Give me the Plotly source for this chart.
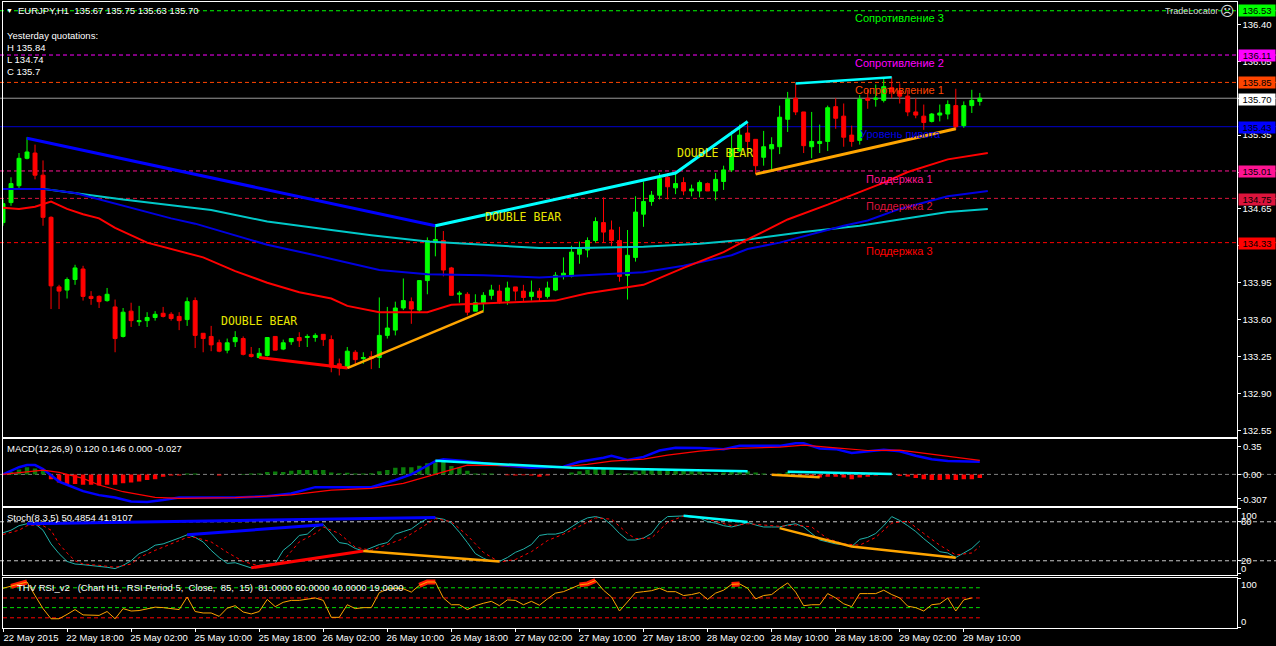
import plotly.graph_objects as go

W, H = 1276, 646
WHITE = "#ffffff"
TXT_FONT = "Liberation Sans"

# --- candles, EURJPY H1, one row of ten per line
opens = [134.52, 134.71, 134.87, 135.13, 135.18, 134.97, 134.57, 133.91, 133.88, 133.98,
         134.08, 133.82, 133.82, 133.78, 133.72, 133.44, 133.68, 133.58, 133.59, 133.62,
         133.66, 133.65, 133.63, 133.60, 133.78, 133.47, 133.44, 133.38, 133.31, 133.39,
         133.42, 133.27, 133.24, 133.26, 133.44, 133.32, 133.39, 133.43, 133.43, 133.43,
         133.46, 133.41, 133.18, 133.15, 133.29, 133.23, 133.25, 133.24, 133.45, 133.50,
         133.71, 133.77, 133.69, 133.97, 134.33, 134.35, 134.09, 133.84, 133.84, 133.68,
         133.76, 133.83, 133.87, 133.78, 133.91, 133.87, 133.82, 133.87, 133.82, 133.88,
         134.02, 134.01, 134.22, 134.26, 134.35, 134.52, 134.45, 134.35, 134.02, 134.19,
         134.60, 134.72, 134.78, 134.95, 134.85, 134.90, 134.82, 134.82, 134.89, 134.82,
         134.91, 135.02, 135.20, 135.37, 135.31, 135.14, 135.22, 135.24, 135.50, 135.70,
         135.57, 135.24, 135.27, 135.29, 135.62, 135.53, 135.35, 135.30, 135.70, 135.69,
         135.68, 135.80, 135.77, 135.72, 135.57, 135.53, 135.48, 135.54, 135.55, 135.63,
         135.44, 135.63, 135.67]
highs = [134.74, 134.95, 135.18, 135.33, 135.26, 135.11, 134.58, 133.93, 134.00, 134.12,
         134.11, 133.87, 133.83, 133.90, 133.79, 133.71, 133.76, 133.73, 133.67, 133.68,
         133.72, 133.67, 133.67, 133.81, 133.81, 133.47, 133.54, 133.41, 133.42, 133.49,
         133.44, 133.34, 133.33, 133.43, 133.44, 133.41, 133.42, 133.48, 133.46, 133.47,
         133.46, 133.45, 133.23, 133.34, 133.31, 133.29, 133.30, 133.81, 133.72, 133.77,
         133.99, 133.81, 133.97, 134.38, 134.49, 134.44, 134.10, 133.87, 133.86, 133.84,
         133.86, 133.93, 133.93, 133.96, 133.91, 133.93, 133.97, 133.90, 133.96, 134.05,
         134.19, 134.30, 134.34, 134.38, 134.57, 134.76, 134.54, 134.48, 134.45, 134.77,
         134.91, 134.82, 134.99, 134.99, 135.00, 134.95, 134.88, 134.92, 134.90, 134.99,
         135.06, 135.39, 135.45, 135.46, 135.31, 135.39, 135.33, 135.63, 135.76, 135.84,
         135.57, 135.57, 135.45, 135.63, 135.70, 135.65, 135.44, 135.73, 135.78, 135.83,
         135.90, 135.90, 135.84, 135.78, 135.70, 135.64, 135.56, 135.64, 135.68, 135.79,
         135.67, 135.78, 135.75]
lows = [134.49, 134.68, 134.84, 135.12, 134.93, 134.49, 133.70, 133.70, 133.80, 133.93,
        133.78, 133.74, 133.71, 133.77, 133.29, 133.43, 133.53, 133.54, 133.53, 133.59,
        133.62, 133.59, 133.50, 133.54, 133.33, 133.29, 133.30, 133.29, 133.28, 133.34,
        133.26, 133.24, 133.23, 133.25, 133.31, 133.31, 133.36, 133.34, 133.34, 133.39,
        133.35, 133.10, 133.07, 133.14, 133.16, 133.18, 133.13, 133.14, 133.42, 133.45,
        133.69, 133.56, 133.67, 133.84, 134.20, 134.01, 133.83, 133.76, 133.64, 133.68,
        133.68, 133.79, 133.75, 133.74, 133.78, 133.77, 133.78, 133.77, 133.80, 133.87,
        133.98, 134.00, 134.13, 134.19, 134.33, 134.33, 134.30, 133.96, 133.79, 134.15,
        134.48, 134.68, 134.74, 134.74, 134.79, 134.78, 134.77, 134.76, 134.82, 134.73,
        134.83, 135.00, 135.19, 135.21, 134.98, 135.06, 135.02, 135.17, 135.38, 135.54,
        135.18, 135.13, 135.18, 135.20, 135.41, 135.24, 135.24, 135.26, 135.60, 135.62,
        135.66, 135.70, 135.65, 135.53, 135.51, 135.40, 135.47, 135.48, 135.50, 135.40,
        135.42, 135.56, 135.63]
closes = [134.70, 134.89, 135.13, 135.19, 134.97, 134.57, 133.92, 133.87, 133.98, 134.09,
          133.82, 133.80, 133.77, 133.84, 133.42, 133.67, 133.59, 133.59, 133.62, 133.65,
          133.63, 133.61, 133.59, 133.77, 133.45, 133.42, 133.36, 133.30, 133.38, 133.43,
          133.27, 133.25, 133.28, 133.43, 133.31, 133.38, 133.42, 133.40, 133.44, 133.45,
          133.41, 133.15, 133.14, 133.30, 133.22, 133.24, 133.23, 133.45, 133.52, 133.71,
          133.78, 133.70, 133.97, 134.35, 134.36, 134.07, 133.83, 133.85, 133.67, 133.76,
          133.83, 133.88, 133.77, 133.90, 133.87, 133.81, 133.86, 133.81, 133.90, 134.02,
          134.04, 134.24, 134.27, 134.35, 134.53, 134.43, 134.35, 134.01, 134.21, 134.62,
          134.72, 134.78, 134.94, 134.86, 134.89, 134.82, 134.84, 134.90, 134.82, 134.93,
          135.02, 135.22, 135.35, 135.29, 135.06, 135.24, 135.26, 135.52, 135.69, 135.57,
          135.25, 135.29, 135.29, 135.61, 135.51, 135.33, 135.29, 135.69, 135.68, 135.70,
          135.81, 135.76, 135.72, 135.57, 135.54, 135.47, 135.55, 135.56, 135.64, 135.43,
          135.63, 135.68, 135.70]

# --- moving averages, read every few bars
ma_red_bars = [0, 2, 4, 6, 8, 10, 12, 14, 18, 25, 29, 33, 37, 41, 43, 47, 53, 56, 62, 69,
               73, 80, 85, 90, 93, 98, 103, 110, 113, 118, 123]
ma_red = [134.66, 134.65, 134.67, 134.72, 134.65, 134.60, 134.56, 134.47, 134.33, 134.19,
          134.06, 133.95, 133.86, 133.80, 133.73, 133.67, 133.67, 133.74, 133.76, 133.78,
          133.85, 133.93, 134.09, 134.24, 134.36, 134.55, 134.69, 134.90, 135.00, 135.12, 135.18]
ma_blue_bars = [0, 5, 9, 16, 21, 24, 28, 33, 39, 43, 47, 53, 60, 67, 75, 80, 85, 91, 93, 97,
                105, 108, 112, 118, 123]
ma_blue = [134.84, 134.84, 134.80, 134.66, 134.56, 134.51, 134.42, 134.31, 134.21, 134.14,
           134.07, 134.03, 134.02, 134.00, 134.03, 134.05, 134.11, 134.21, 134.27, 134.33,
           134.49, 134.54, 134.65, 134.77, 134.82]
ma_cyan_bars = [0, 5, 7, 15, 26, 33, 41, 46, 53, 60, 67, 72, 80, 87, 93, 100, 107, 112, 118, 123]
ma_cyan = [134.84, 134.84, 134.82, 134.74, 134.64, 134.53, 134.45, 134.40, 134.34, 134.31,
           134.28, 134.28, 134.29, 134.32, 134.36, 134.43, 134.49, 134.55, 134.62, 134.65]

# --- trend lines in the price pane
blue_trend_bars, blue_trend = [3, 54], [135.32, 134.49]
cyan_trend_bars, cyan_trend = [54, 84, 93], [134.49, 134.99, 135.48]
cyan_top_bars, cyan_top = [99, 111], [135.84, 135.90]
red_trend_bars, red_trend = [32, 43], [133.24, 133.14]
orange_a_bars, orange_a = [43, 60], [133.14, 133.68]
orange_b_bars, orange_b = [94, 119], [134.98, 135.41]

# --- levels
level_prices = [136.53, 136.11, 135.85, 135.01, 134.75, 134.33]
level_colors = ["#00ff00", "#ff00ff", "#ff4500", "#ff1493", "#dc143c", "#ff0000"]
level_names = ["Сопротивление 3", "Сопротивление 2", "Сопротивление 1",
               "Поддержка 1", "Поддержка 2", "Поддержка 3"]
pivot_price, last_price = 135.43, 135.70
price_ticks = [136.40, 136.05, 135.70, 135.35, 135.00, 134.65, 134.30, 133.95, 133.60, 133.25, 132.90, 132.55]

# --- MACD
macd_hist = [0.01, 0.03, 0.06, 0.09, 0.075, 0.045, -0.06, -0.10, -0.12, -0.12,
             -0.13, -0.13, -0.14, -0.13, -0.13, -0.11, -0.10, -0.09, -0.07, -0.06,
             -0.03, -0.015, -0.015, 0.01, 0.01, 0.0, 0.0, -0.015, 0.0, 0.0,
             0.005, 0.01, 0.01, 0.03, 0.035, 0.03, 0.045, 0.055, 0.055, 0.055,
             0.055, 0.025, 0.015, 0.02, 0.01, 0.01, 0.015, 0.04, 0.055, 0.085,
             0.09, 0.09, 0.11, 0.14, 0.16, 0.16, 0.105, 0.09, 0.045, 0.01,
             0.01, 0.01, 0.0, -0.01, -0.015, -0.01, -0.015, -0.03, -0.015, 0.0,
             0.0, 0.025, 0.04, 0.055, 0.075, 0.07, 0.055, 0.01, 0.01, 0.035,
             0.055, 0.07, 0.06, 0.055, 0.055, 0.05, 0.04, 0.035, 0.015, 0.01,
             0.025, 0.035, 0.035, 0.04, 0.025, 0.01, 0.0, 0.01, 0.03, -0.005,
             -0.01, -0.03, -0.04, -0.03, -0.03, -0.04, -0.06, -0.04, -0.03, -0.015,
             -0.005, 0.0, -0.02, -0.025, -0.045, -0.06, -0.07, -0.07, -0.06, -0.07,
             -0.06, -0.06, -0.045]
macd_bars = [0, 1, 2, 3, 4, 5, 6, 7, 8, 10, 12, 14, 16, 18, 20, 22, 25, 29, 33, 36, 39, 43, 46,
             49, 51, 52, 54, 55, 58, 62, 66, 70, 72, 75, 76, 78, 80, 82, 84, 87, 90, 92, 97, 99,
             100, 102, 104, 106, 108, 110, 112, 114, 116, 118, 122]
macd_line = [0.0, 0.04, 0.09, 0.117, 0.117, 0.067, -0.01, -0.09, -0.13, -0.21, -0.26, -0.29,
             -0.34, -0.345, -0.32, -0.29, -0.29, -0.29, -0.275, -0.24, -0.16, -0.165, -0.16,
             -0.07, 0.0, 0.055, 0.165, 0.19, 0.165, 0.117, 0.083, 0.096, 0.158, 0.21, 0.233,
             0.18, 0.22, 0.30, 0.333, 0.33, 0.317, 0.358, 0.358, 0.39, 0.39, 0.325, 0.317,
             0.27, 0.29, 0.31, 0.29, 0.233, 0.19, 0.167, 0.158]
signal_bars = [0, 2, 5, 7, 10, 12, 15, 19, 22, 29, 36, 41, 46, 50, 54, 58, 66, 70, 73, 76, 80,
               83, 87, 91, 97, 100, 104, 108, 112, 116, 118, 122]
signal_line = [0.0, 0.025, 0.054, 0.025, -0.05, -0.133, -0.217, -0.288, -0.30, -0.292, -0.258,
               -0.196, -0.175, -0.112, 0.0, 0.117, 0.108, 0.096, 0.125, 0.167, 0.192, 0.242,
               0.292, 0.325, 0.342, 0.367, 0.333, 0.30, 0.304, 0.254, 0.221, 0.175]
macd_cyan_bars, macd_cyan = [54, 71, 93], [0.17, 0.083, 0.04]
macd_cyan2_bars, macd_cyan2 = [98, 111], [0.033, 0.004]
macd_orange_bars, macd_orange = [96, 102], [-0.004, -0.037]

# --- Stochastic
stoch_main = [63, 67, 74, 77, 77, 67, 46, 31, 19, 15, 14, 13, 12, 10, 8, 13, 20, 31, 36, 44,
              46, 50, 55, 60, 56, 49, 36, 25, 16, 17, 13, 9, 13, 15, 16, 36, 46, 59, 61, 72,
              76, 62, 48, 46, 39, 35, 40, 45, 48, 61, 65, 69, 78, 85, 86, 84, 78, 64, 48, 31,
              24, 19, 19, 25, 33, 38, 45, 59, 61, 61, 64, 72, 80, 86, 88, 85, 75, 62, 52, 52,
              55, 62, 78, 88, 89, 89, 87, 86, 80, 78, 74, 72, 75, 79, 75, 72, 72, 72, 75, 77,
              72, 62, 52, 49, 46, 45, 42, 53, 56, 62, 74, 88, 82, 74, 65, 54, 44, 34, 32, 25,
              32, 39, 50.49]
stoch_signal_bars = [0, 2, 3, 4, 5, 6, 7, 8, 9, 10, 12, 14, 16, 17, 19, 21, 23, 24, 26, 28, 30,
                     32, 34, 35, 37, 39, 40, 42, 44, 46, 48, 50, 52, 54, 56, 58, 60, 62, 64, 66,
                     68, 70, 72, 74, 76, 78, 79, 81, 83, 85, 87, 89, 91, 93, 95, 97, 99, 101,
                     103, 105, 107, 109, 111, 113, 115, 117, 119, 121, 122]
stoch_signal = [60.5, 67, 74, 75, 74, 67, 46, 32, 20, 15, 13, 10, 15, 25, 36, 46, 56, 56, 49,
                33, 19, 12, 15, 20, 49, 62, 72, 62, 41, 36, 45, 54, 69, 85, 80, 59, 33, 18,
                22, 34, 51, 61, 73, 86, 84, 62, 54, 55, 79, 89, 87, 80, 74, 77, 75, 73, 75,
                72, 54, 46, 44, 56, 78, 81, 62, 44, 29, 32, 41.91]
stoch_blue_a_bars, stoch_blue_a = [3, 54], [76.9, 86.7]
stoch_blue_b_bars, stoch_blue_b = [23, 40], [60, 75.4]
stoch_red_bars, stoch_red = [31, 45], [9.2, 34.9]
stoch_orange_a_bars, stoch_orange_a = [45, 62], [34.9, 19]
stoch_cyan_bars, stoch_cyan = [85, 93], [89.2, 79.5]
stoch_orange_b_bars, stoch_orange_b = [97, 106, 119], [70.2, 42, 24.6]

# --- THV RSI
rsi_values = [80, 84, 89, 93, 65, 38, 17, 17, 26, 36, 25, 25, 24, 32, 17, 38, 33, 34, 38, 41,
              40, 38, 36, 62, 32, 29, 29, 22, 39, 44, 31, 27, 32, 57, 42, 51, 55, 55, 58, 60,
              55, 20, 20, 46, 38, 40, 40, 71, 78, 80, 79, 72, 86, 93, 93, 60, 46, 46, 36, 44,
              49, 53, 44, 56, 55, 46, 53, 45, 58, 70, 73, 80, 87, 89, 96, 76, 62, 33, 53, 71,
              73, 75, 80, 73, 73, 65, 67, 71, 57, 70, 76, 88, 89, 80, 58, 65, 67, 80, 91, 72,
              44, 46, 46, 69, 60, 48, 42, 69, 69, 69, 76, 67, 60, 43, 40, 33, 46, 48, 60, 33,
              56, 60]
rsi_levels = [81, 60, 40, 19]
rsi_level_colors = ["#00e000", "#ff0000", "#00e000", "#ff0000"]

# --- time axis
time_bars = [0, 8, 16, 24, 32, 40, 48, 56, 64, 72, 80, 88, 96, 104, 112, 120]
time_labels = ["22 May 2015", "22 May 18:00", "25 May 02:00", "25 May 10:00", "25 May 18:00",
               "26 May 02:00", "26 May 10:00", "26 May 18:00", "27 May 02:00", "27 May 10:00",
               "27 May 18:00", "28 May 02:00", "28 May 10:00", "28 May 18:00", "29 May 02:00",
               "29 May 10:00"]


def px(x):
    return x / W


def py(y):
    return 1 - y / H


def line(fig, bars, vals, color, width, yax, dash=None):
    fig.add_trace(go.Scatter(x=bars, y=vals, mode="lines", yaxis=yax, xaxis="x" + yax[1:],
                             line=dict(color=color, width=width, dash=dash), hoverinfo="skip"))


def label(text, x, y, color=WHITE, size=9.5, family=TXT_FONT, anchor="left", **kw):
    fig.add_annotation(text=text, x=px(x - 1.5), y=py(y), xref="paper", yref="paper", showarrow=False,
                       xanchor=anchor, yanchor="middle", borderpad=0,
                       font=dict(color=color, size=size, family=family), **kw)


fig = go.Figure()

# price pane
fig.add_trace(go.Candlestick(x=list(range(len(opens))), open=opens, high=highs, low=lows, close=closes,
                             xaxis="x", yaxis="y", whiskerwidth=0, hoverinfo="skip",
                             increasing=dict(line=dict(color="#00ff00", width=1), fillcolor="#00ff00"),
                             decreasing=dict(line=dict(color="#ff0000", width=1), fillcolor="#ff0000")))
line(fig, ma_cyan_bars, ma_cyan, "#00c8c8", 2, "y")
line(fig, ma_blue_bars, ma_blue, "#0000e0", 2, "y")
line(fig, ma_red_bars, ma_red, "#ff0000", 2, "y")
line(fig, blue_trend_bars, blue_trend, "#0000ff", 3, "y")
line(fig, cyan_trend_bars, cyan_trend, "#00ffff", 3, "y")
line(fig, cyan_top_bars, cyan_top, "#00ffff", 2.5, "y")
line(fig, red_trend_bars, red_trend, "#ff0000", 3, "y")
line(fig, orange_a_bars, orange_a, "#ffa500", 2.5, "y")
line(fig, orange_b_bars, orange_b, "#ffa500", 3, "y")

# macd pane
fig.add_trace(go.Bar(x=list(range(len(macd_hist))), y=macd_hist, xaxis="x2", yaxis="y2", width=0.55,
                     marker=dict(color=["#0a7d0a" if v > 0 else "#ff0000" for v in macd_hist], line_width=0),
                     hoverinfo="skip"))
line(fig, macd_bars, macd_line, "#0000ff", 2.5, "y2")
line(fig, signal_bars, signal_line, "#ff0000", 1.2, "y2")
line(fig, macd_cyan_bars, macd_cyan, "#00ffff", 2.5, "y2")
line(fig, macd_cyan2_bars, macd_cyan2, "#00ffff", 2.5, "y2")
line(fig, macd_orange_bars, macd_orange, "#ffa500", 2.5, "y2")

# stochastic pane
line(fig, list(range(len(stoch_main))), stoch_main, "#20b2aa", 1, "y3")
line(fig, stoch_signal_bars, stoch_signal, "#ff0000", 1, "y3", dash="3px,3px")
line(fig, stoch_blue_a_bars, stoch_blue_a, "#0000ff", 3, "y3")
line(fig, stoch_blue_b_bars, stoch_blue_b, "#0000ff", 3, "y3")
line(fig, stoch_red_bars, stoch_red, "#ff0000", 3, "y3")
line(fig, stoch_orange_a_bars, stoch_orange_a, "#ffa500", 2.5, "y3")
line(fig, stoch_cyan_bars, stoch_cyan, "#00ffff", 2.5, "y3")
line(fig, stoch_orange_b_bars, stoch_orange_b, "#ffa500", 2.5, "y3")

# rsi pane, stretches above the upper level get the red marker line
rsi_bars = list(range(len(rsi_values)))
line(fig, rsi_bars, [v if v > 80 else None for v in rsi_values], "#ff1a00", 5, "y4")
line(fig, rsi_bars, rsi_values, "#ffa500", 1, "y4")

# dashed levels
for price, color in zip(level_prices, level_colors):
    fig.add_shape(type="line", xref="paper", yref="y", x0=0, x1=1, y0=price, y1=price, layer="below",
                  line=dict(color=color, width=1, dash="4px,3px"))
fig.add_shape(type="line", xref="paper", yref="y", x0=0, x1=1, y0=last_price, y1=last_price, layer="below",
              line=dict(color="#9a9a9a", width=1))
fig.add_shape(type="line", xref="paper", yref="y", x0=0, x1=1, y0=pivot_price, y1=pivot_price, layer="below",
              line=dict(color="#0000cd", width=1))
fig.add_shape(type="line", xref="paper", yref="y2", x0=0, x1=1, y0=0, y1=0, layer="below",
              line=dict(color="#808080", width=1, dash="4px,3px"))
for lvl in [80, 20]:
    fig.add_shape(type="line", xref="paper", yref="y3", x0=0, x1=1, y0=lvl, y1=lvl, layer="below",
                  line=dict(color="#c8c8c8", width=1, dash="4px,3px"))
for lvl, color in zip(rsi_levels, rsi_level_colors):
    fig.add_shape(type="line", xref="x4", yref="y4", x0=0, x1=122, y0=lvl, y1=lvl, layer="below",
                  line=dict(color=color, width=1, dash="4px,3px"))

# texts in the panes
label("EURJPY,H1  135.67 135.75 135.63 135.70".replace("  ", "\u00a0\u00a0"), 18, 10.5)
label("▼", 6, 10.5, size=7)
label("Yesterday quotations:", 7, 35.5)
label("H 135.84", 7, 47.5)
label("L 134.74", 7, 59.5)
label("C 135.7", 7, 71.5)
label("TradeLocator", 1165, 11.5, color="#d8d8d8", size=9)
label("☹", 1220, 11.5, size=14, family="DejaVu Sans", color="#d8d8d8")
label("MACD(12,26,9) 0.120 0.146 0.000 -0.027", 7, 448.5)
label("Stoch(8,3,5) 50.4854 41.9107", 7, 517.5)
label("THV RSI_v2   (Chart H1,  RSI Period 5,  Close,  85,  15)  81.0000 60.0000 40.0000 19.0000".replace("  ", "\u00a0\u00a0"), 17, 587)

name_y = [18, 63, 90, 179, 206, 251]
name_x = [855, 855, 855, 867, 867, 867]
for name, color, x, y in zip(level_names, level_colors, name_x, name_y):
    label(name, x, y, color=color, size=11)
label("Уровень пивота", 860, 134, color="#0000e6", size=11)
for x, y in [(221, 321), (485, 217), (677, 153)]:
    label("DOUBLE BEAR", x, y, color="#e6e600", size=11.5, family="DejaVu Sans Mono")

# price tags on the right axis
tag_prices = [136.53, 136.11, 135.85, last_price, pivot_price, 135.01, 134.75, 134.33]
tag_colors = ["#00ff00", "#ff00ff", "#ff4500", "#ffffff", "#0000ff", "#ff1493", "#dc143c", "#ff0000"]
tag_y = [10.5, 55.5, 82.5, 99, 127, 171.5, 199, 243.5]
for price, color, y in zip(tag_prices, tag_colors, tag_y):
    label("%.2f" % price, 1239.5, y, color="#000000", size=9.5, width=36, height=11, bgcolor=color, align="center")

# scale labels of the small panes
label("0.35", 1243, 446.5)
label("0.00", 1243, 474.5)
label("-0.307", 1240, 499.5)
label("100", 1241, 515.5)
label("80", 1241, 521.5)
label("20", 1241, 560.5)
label("0", 1241, 568.5)
label("100", 1241, 584.5)
label("0", 1241, 621.5)

pane_axis = dict(showgrid=False, zeroline=False, showline=True, mirror=True, linecolor=WHITE, linewidth=1)
x_range = [-0.0625, 154.06]
x_domain = [px(2.5), px(1236.5)]
x_common = dict(range=x_range, domain=x_domain, showticklabels=False, ticks="", **pane_axis)
y_common = dict(side="right", ticks="outside", ticklen=3, tickwidth=1, tickcolor=WHITE, showticklabels=False, **pane_axis)

fig.update_layout(
    width=W, height=H, margin=dict(l=0, r=0, t=0, b=0),
    paper_bgcolor="#000000", plot_bgcolor="#000000",
    showlegend=False, hovermode=False, barmode="overlay", dragmode=False,
    font=dict(family=TXT_FONT, size=9.5, color=WHITE),
    xaxis=dict(anchor="y", rangeslider=dict(visible=False), **x_common),
    xaxis2=dict(anchor="y2", **x_common),
    xaxis3=dict(anchor="y3", **x_common),
    xaxis4=dict(anchor="y4", range=x_range, domain=x_domain, tickmode="array", tickvals=time_bars,
                ticktext=time_labels, ticks="outside", ticklen=3, tickwidth=1, tickcolor=WHITE,
                tickfont=dict(size=9.5, color=WHITE), ticklabelshift=28, ticklabelstandoff=-2, **pane_axis),
    yaxis=dict(anchor="x", domain=[py(437), py(2)], range=[132.486, 136.613], tickmode="array",
               tickvals=price_ticks, ticktext=["%.2f" % v for v in price_ticks], ticks="outside", ticklen=3,
               tickwidth=1, tickcolor=WHITE, side="right", tickfont=dict(size=9.5, color=WHITE), **pane_axis),
    yaxis2=dict(anchor="x2", domain=[py(505.5), py(439)], range=[-0.39, 0.444], tickmode="array",
                tickvals=[0.35, 0.0, -0.307], **y_common),
    yaxis3=dict(anchor="x3", domain=[py(574.5), py(508)], range=[-1.1, 101.2], tickmode="array",
                tickvals=[100, 80, 20, 0], **y_common),
    yaxis4=dict(anchor="x4", domain=[py(627.5), py(578)], range=[-1, 101.2], tickmode="array",
                tickvals=[100, 0], **y_common),
)

fig.write_html("out.html", config=dict(displayModeBar=False, staticPlot=True),
               post_script="document.body.style.margin='0';document.body.style.overflow='hidden';")
